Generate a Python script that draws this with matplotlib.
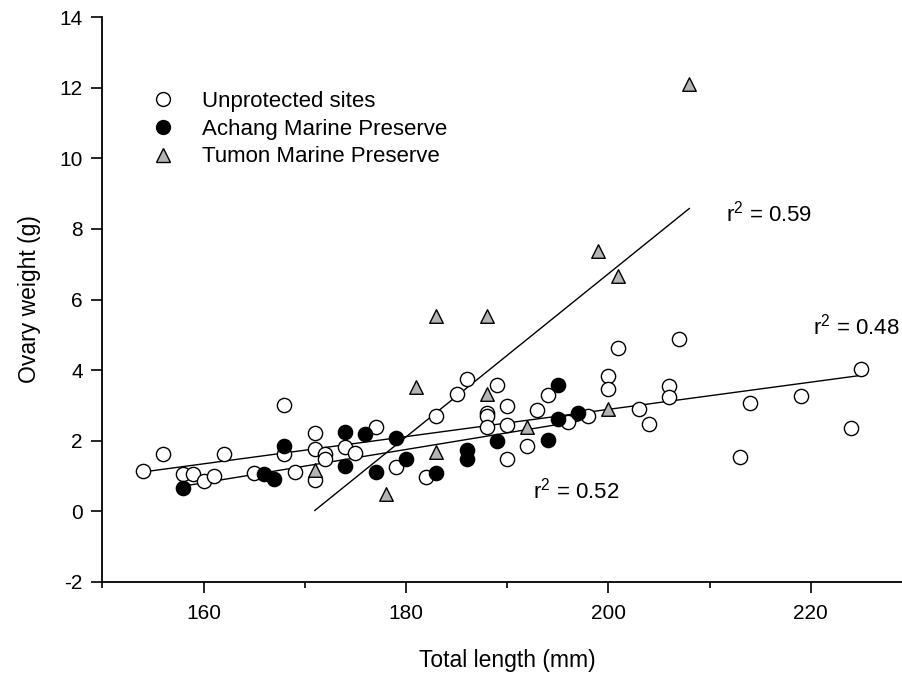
import matplotlib
matplotlib.use("Agg")
import matplotlib.pyplot as plt
from matplotlib.lines import Line2D

plt.rcParams["font.family"] = ["Liberation Sans", "DejaVu Sans"]
plt.rcParams["mathtext.fontset"] = "custom"
plt.rcParams["mathtext.rm"] = "Liberation Sans"
plt.rcParams["axes.unicode_minus"] = False

# unprotected sites (open circles)
unprot_len = [154, 156, 158, 159, 160, 161, 162, 165, 168, 168, 169, 171, 171, 171,
              172, 172, 174, 175, 177, 179, 182, 183, 185, 186, 188, 188, 188, 189,
              190, 190, 190, 192, 193, 194, 196, 198, 200, 200, 201, 203, 204, 206,
              206, 207, 213, 214, 219, 224, 225]
unprot_wt = [1.15, 1.61, 1.06, 1.06, 0.85, 0.99, 1.61, 1.08, 3.00, 1.63, 1.11, 2.22, 1.77, 0.87,
             1.63, 1.49, 1.82, 1.65, 2.38, 1.25, 0.97, 2.69, 3.31, 3.76, 2.78, 2.70, 2.38, 3.59,
             2.97, 2.43, 1.49, 1.84, 2.88, 3.28, 2.53, 2.69, 3.83, 3.47, 4.63, 2.90, 2.48, 3.54,
             3.23, 4.89, 1.53, 3.08, 3.27, 2.37, 4.02]

# Achang Marine Preserve (filled circles)
achang_len = [158, 166, 167, 168, 174, 174, 176, 177, 179, 180, 183, 186, 186, 189,
              194, 195, 195, 197]
achang_wt = [0.66, 1.06, 0.91, 1.84, 2.24, 1.28, 2.19, 1.11, 2.08, 1.49, 1.08, 1.74, 1.49, 1.99,
             2.03, 3.59, 2.62, 2.78]

# Tumon Marine Preserve (grey triangles)
tumon_len = [171, 178, 181, 183, 183, 188, 188, 192, 199, 200, 201, 208]
tumon_wt = [1.17, 0.49, 3.52, 5.52, 1.67, 5.52, 3.31, 2.38, 7.38, 2.90, 6.66, 12.12]

# regression lines (end points) and r2 labels
fit_unprot_x = [154, 225]
fit_unprot_y = [1.11, 3.85]
fit_achang_x = [158, 197]
fit_achang_y = [0.71, 2.55]
fit_tumon_x = [171, 208]
fit_tumon_y = [0.02, 8.58]

r2_labels = ["0.59", "0.48", "0.52"]
r2_pos = [(211.6, 8.45), (220.2, 5.22), (192.6, 0.59)]

fig = plt.figure(figsize=(9.03, 6.81), dpi=100)
ax = fig.add_axes([0.1133, 0.1458, 0.8966, 0.8288])

for fx, fy in [(fit_unprot_x, fit_unprot_y), (fit_achang_x, fit_achang_y),
               (fit_tumon_x, fit_tumon_y)]:
    ax.plot(fx, fy, color="black", lw=1.0, zorder=2)

ax.scatter(unprot_len, unprot_wt, s=105, facecolor="white", edgecolor="black",
           linewidths=1.0, zorder=3)
ax.scatter(achang_len, achang_wt, s=105, facecolor="black", edgecolor="black",
           linewidths=1.0, zorder=3)
ax.scatter(tumon_len, tumon_wt, s=95, marker="^", facecolor="#b4b4b4",
           edgecolor="black", linewidths=1.0, zorder=4)

for lab, (tx, ty) in zip(r2_labels, r2_pos):
    ax.text(tx, ty, r"r$^\mathregular{2}$ = " + lab, fontsize=16, ha="left", va="center")

ax.set_xlim(150, 230)
ax.set_ylim(-2, 14)
ax.set_xticks([160, 180, 200, 220])
ax.set_xticks([150, 170, 190, 210, 230], minor=True)
ax.set_yticks(range(-2, 15, 2))
ax.tick_params(axis="both", which="major", labelsize=15, length=8, width=1.2,
               direction="out")
ax.tick_params(axis="x", which="minor", length=4.5, width=1.2, direction="out")
ax.tick_params(axis="x", pad=8)
ax.tick_params(axis="y", pad=6)

for side in ["top", "right"]:
    ax.spines[side].set_visible(False)
for side in ["left", "bottom"]:
    ax.spines[side].set_linewidth(1.3)

ax.set_xlabel("Total length (mm)", fontsize=16.5, labelpad=19)
ax.set_ylabel("Ovary weight (g)", fontsize=16.5, labelpad=13)

handles = [
    Line2D([], [], ls="none", marker="o", ms=10, mfc="white", mec="black", mew=1.0),
    Line2D([], [], ls="none", marker="o", ms=10, mfc="black", mec="black", mew=1.0),
    Line2D([], [], ls="none", marker="^", ms=9.5, mfc="#b4b4b4", mec="black", mew=1.0),
]
ax.legend(handles, ["Unprotected sites", "Achang Marine Preserve", "Tumon Marine Preserve"],
          loc="upper left", bbox_to_anchor=(0.045, 0.889), frameon=False, fontsize=16,
          handletextpad=1.15, labelspacing=0.3, borderpad=0, handlelength=1.2)

fig.savefig("out.png", dpi=100)
